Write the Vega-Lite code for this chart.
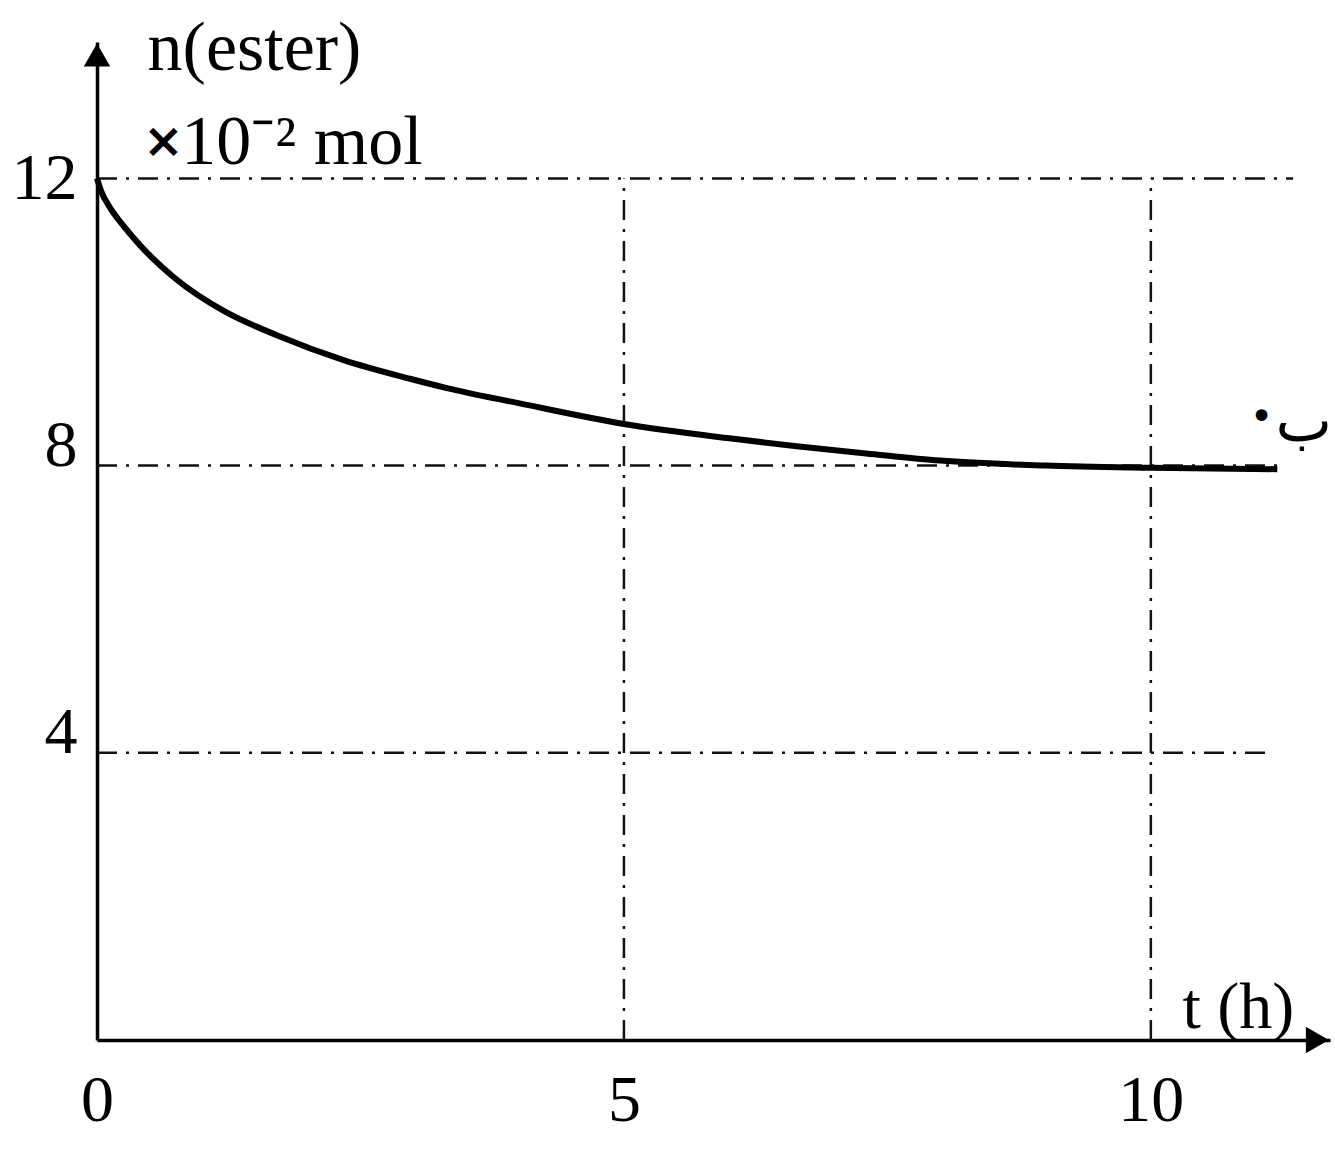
{
  "$schema": "https://vega.github.io/schema/vega-lite/v6.json",
  "width": 1233,
  "height": 998,
  "autosize": {"type": "none"},
  "padding": {"left": 97, "top": 42, "right": 5, "bottom": 113},
  "background": "white",
  "config": {"view": {"stroke": null}, "font": "Liberation Serif"},
  "datasets": {
    "curve": [
      {"t": 0, "n": 12},
      {"t": 0.04, "n": 11.82},
      {"t": 0.12, "n": 11.6},
      {"t": 0.24, "n": 11.36},
      {"t": 0.42, "n": 11.05},
      {"t": 0.74, "n": 10.61},
      {"t": 1.22, "n": 10.14},
      {"t": 1.7, "n": 9.82},
      {"t": 2.34, "n": 9.47},
      {"t": 2.97, "n": 9.21},
      {"t": 3.32, "n": 9.08},
      {"t": 4.0, "n": 8.87},
      {"t": 5.0, "n": 8.58},
      {"t": 6.0, "n": 8.38},
      {"t": 6.64, "n": 8.27},
      {"t": 7.3, "n": 8.17},
      {"t": 8.0, "n": 8.07},
      {"t": 9.0, "n": 8.0},
      {"t": 10.0, "n": 7.97},
      {"t": 11.2, "n": 7.95}
    ],
    "grid": [
      {"x": 0, "x2": 11.35, "y": 12, "y2": 12},
      {"x": 0, "x2": 11.2, "y": 8, "y2": 8},
      {"x": 0, "x2": 11.1, "y": 4, "y2": 4},
      {"x": 5, "x2": 5, "y": 0, "y2": 12},
      {"x": 10, "x2": 10, "y": 0, "y2": 12}
    ],
    "one": [{"k": 1}]
  },
  "layer": [
    {
      "data": {"name": "grid"},
      "mark": {"type": "rule", "color": "#111", "strokeWidth": 2.5, "strokeDash": [20, 9, 3, 9]},
      "encoding": {
        "x": {
          "field": "x", "type": "quantitative",
          "scale": {"domain": [0, 11.7], "nice": false},
          "axis": {
            "values": [0, 5, 10], "format": "d", "ticks": false, "grid": false,
            "domainColor": "black", "domainWidth": 3.5,
            "labelFontSize": 66, "labelFont": "Liberation Serif", "labelColor": "black",
            "labelPadding": 28, "labelFlush": false, "labelOverlap": false, "title": null
          }
        },
        "x2": {"field": "x2"},
        "y": {
          "field": "y", "type": "quantitative",
          "scale": {"domain": [0, 13.9], "nice": false},
          "axis": {
            "values": [4, 8, 12], "format": "d", "ticks": false, "grid": false,
            "domainColor": "black", "domainWidth": 3.5,
            "labelFontSize": 66, "labelFont": "Liberation Serif", "labelColor": "black",
            "labelPadding": 20, "labelFlush": false, "labelOverlap": false, "title": null,
            "labelBaseline": {"condition": {"test": "datum.value == 12", "value": "middle"}, "value": "alphabetic"}
          }
        },
        "y2": {"field": "y2"}
      }
    },
    {
      "data": {"name": "curve"},
      "mark": {"type": "line", "color": "black", "strokeWidth": 6, "interpolate": "monotone"},
      "encoding": {
        "x": {"field": "t", "type": "quantitative"},
        "y": {"field": "n", "type": "quantitative"}
      }
    },
    {
      "data": {"name": "one"},
      "mark": {"type": "point", "shape": "triangle-up", "filled": true, "color": "black", "size": 700, "opacity": 1},
      "encoding": {"x": {"datum": 0}, "y": {"datum": 13.72}}
    },
    {
      "data": {"name": "one"},
      "mark": {"type": "point", "shape": "triangle-right", "filled": true, "color": "black", "size": 700, "opacity": 1},
      "encoding": {"x": {"datum": 11.58}, "y": {"datum": 0}}
    },
    {
      "data": {"name": "one"},
      "mark": {"type": "text", "text": "n(ester)", "font": "Liberation Serif", "fontSize": 70, "align": "left", "baseline": "middle", "color": "black"},
      "encoding": {"x": {"datum": 0.48}, "y": {"datum": 13.8}}
    },
    {
      "data": {"name": "one"},
      "mark": {"type": "text", "text": "×", "font": "DejaVu Sans", "fontWeight": "bold", "fontSize": 48, "align": "left", "baseline": "middle", "color": "black"},
      "encoding": {"x": {"datum": 0.44}, "y": {"datum": 12.5}}
    },
    {
      "data": {"name": "one"},
      "mark": {"type": "text", "text": "10⁻² mol", "font": "Liberation Serif", "fontSize": 70, "align": "left", "baseline": "middle", "color": "black"},
      "encoding": {"x": {"datum": 0.8}, "y": {"datum": 12.5}}
    },
    {
      "data": {"name": "one"},
      "mark": {"type": "text", "text": "t (h)", "font": "Liberation Serif", "fontSize": 66, "align": "left", "baseline": "middle", "color": "black"},
      "encoding": {"x": {"datum": 10.3}, "y": {"datum": 0.45}}
    },
    {
      "data": {"name": "one"},
      "mark": {"type": "text", "text": "•", "font": "DejaVu Sans", "fontSize": 40, "align": "center", "baseline": "middle", "color": "black"},
      "encoding": {"x": {"datum": 11.05}, "y": {"datum": 8.66}}
    },
    {
      "data": {"name": "one"},
      "mark": {"type": "text", "text": "ب", "font": "DejaVu Sans", "fontSize": 60, "align": "right", "baseline": "middle", "color": "black"},
      "encoding": {"x": {"datum": 11.72}, "y": {"datum": 8.6}}
    }
  ]
}
